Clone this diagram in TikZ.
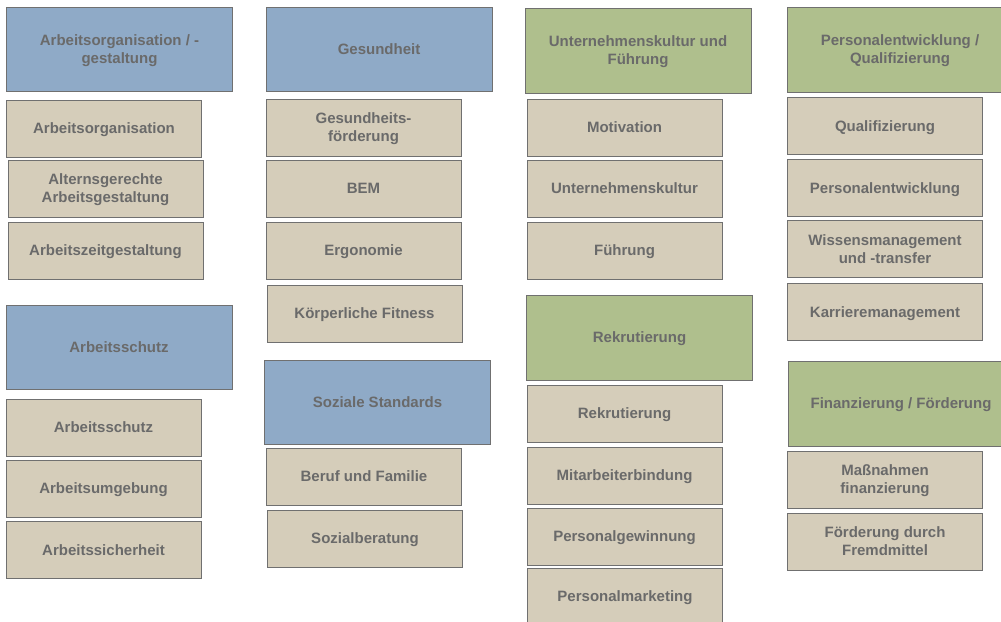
\documentclass[tikz,border=0pt]{standalone}
\usepackage{fontspec}
\setmainfont{Liberation Sans}
\definecolor{kopfblau}{HTML}{8FAAC7}
\definecolor{kopfgruen}{HTML}{AFBF8D}
\definecolor{feldbeige}{HTML}{D5CDBA}
\definecolor{randgrau}{HTML}{707070}
\definecolor{schriftgrau}{HTML}{6A6A6A}
\tikzset{
  kasten/.style={draw=randgrau, line width=1pt, align=center, inner sep=2pt,
    text depth=0pt, text=schriftgrau, font=\fontsize{15}{18}\selectfont\bfseries},
  blaukopf/.style={kasten, fill=kopfblau, minimum width=226pt, minimum height=84pt},
  gruenkopf/.style={kasten, fill=kopfgruen, minimum width=226pt, minimum height=85pt},
  feld/.style={kasten, fill=feldbeige, minimum width=195pt, minimum height=57pt}
}
\begin{document}
\begin{tikzpicture}[x=1pt, y=-1pt]
  \useasboundingbox (0,0) rectangle (1001,621);
  \clip (0,0) rectangle (1001,621);
  % Spalte 1
  \node[blaukopf] (arbeitsorg) at (119.5,49) {Arbeitsorganisation / -\\gestaltung};
  \node[feld] (organisation) at (104,128.5) {Arbeitsorganisation};
  \node[feld] (alternsgerecht) at (105.5,188.5) {Alternsgerechte\\Arbeitsgestaltung};
  \node[feld] (arbeitszeit) at (105.5,250.5) {Arbeitszeitgestaltung};
  \node[blaukopf] (schutzkopf) at (119,347.5) {Arbeitsschutz};
  \node[feld] (schutz) at (103.5,427.5) {Arbeitsschutz};
  \node[feld] (umgebung) at (103.5,488.5) {Arbeitsumgebung};
  \node[feld] (sicherheit) at (103.5,550) {Arbeitssicherheit};
  % Spalte 2
  \node[blaukopf] (gesundheit) at (379,49) {Gesundheit};
  \node[feld] (foerderung) at (363.5,127.5) {Gesundheits-\\förderung};
  \node[feld] (bem) at (363.5,188.5) {BEM};
  \node[feld] (ergonomie) at (363.5,250.5) {Ergonomie};
  \node[feld] (fitness) at (364.5,313.5) {Körperliche Fitness};
  \node[blaukopf] (sozial) at (377.5,402) {Soziale Standards};
  \node[feld] (familie) at (364,476.5) {Beruf und Familie};
  \node[feld] (beratung) at (365,538.5) {Sozialberatung};
  % Spalte 3
  \node[gruenkopf] (kultur) at (638,50.5) {Unternehmenskultur und\\Führung};
  \node[feld] (motivation) at (624.5,127.5) {Motivation};
  \node[feld] (ukultur) at (624.5,188.5) {Unternehmenskultur};
  \node[feld] (fuehrung) at (624.5,250.5) {Führung};
  \node[gruenkopf] (rekrutkopf) at (639.5,337.5) {Rekrutierung};
  \node[feld] (rekrut) at (624.5,413.5) {Rekrutierung};
  \node[feld] (bindung) at (624.5,475.5) {Mitarbeiterbindung};
  \node[feld] (gewinnung) at (624.5,536.5) {Personalgewinnung};
  \node[feld] (marketing) at (625,596.5) {Personalmarketing};
  % Spalte 4
  \node[gruenkopf] (entwicklung) at (900,49.5) {Personalentwicklung /\\Qualifizierung};
  \node[feld] (quali) at (885,126) {Qualifizierung};
  \node[feld] (pentw) at (885,188) {Personalentwicklung};
  \node[feld] (wissen) at (885,249) {Wissensmanagement\\und -transfer};
  \node[feld] (karriere) at (885,312) {Karrieremanagement};
  \node[gruenkopf] (finanz) at (901,403.5) {Finanzierung / Förderung};
  \node[feld] (massnahmen) at (885,479.5) {Maßnahmen\\finanzierung};
  \node[feld] (fremd) at (885,541.5) {Förderung durch\\Fremdmittel};
\end{tikzpicture}
\end{document}
